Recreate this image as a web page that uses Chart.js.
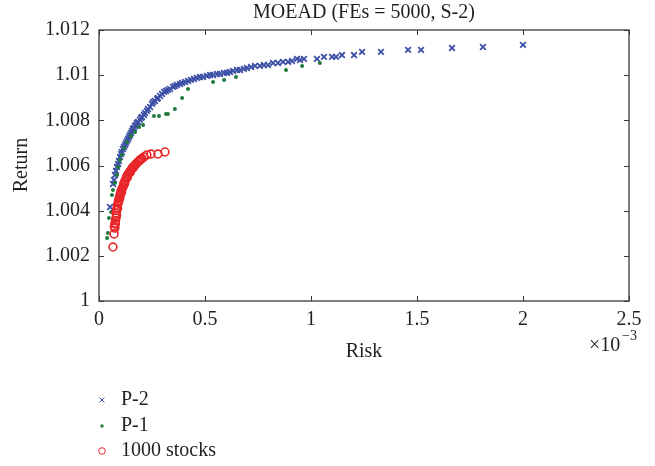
<!DOCTYPE html>
<html>
<head>
<meta charset="utf-8">
<script src="https://cdn.jsdelivr.net/npm/chart.js@4.4.1/dist/chart.umd.min.js"></script>
<style>
  body { margin: 0; background: #fff; }
  canvas { display: block; }
</style>
</head>
<body>
<canvas id="myChart" width="655" height="466"></canvas>
<script>
// risk values are in units of 1e-3 (axis shows x10^-3)
const p2Risk = [0.052,0.066,0.071,0.075,0.080,0.085,0.090,0.094,0.099,0.104,0.108,0.113,0.118,0.123,0.127,0.132,0.137,0.142,0.146,0.151,
  0.156,0.160,0.165,0.170,0.175,0.179,0.184,0.193,0.198,0.203,0.212,0.217,0.226,0.231,0.241,0.250,0.255,0.264,0.274,0.278,
  0.288,0.297,0.307,0.316,0.325,0.335,0.349,0.358,0.368,0.382,0.392,0.406,0.420,0.434,0.448,0.462,0.476,0.491,0.509,0.524,
  0.538,0.557,0.571,0.590,0.604,0.618,0.632,0.651,0.665,0.684,0.698,0.717,0.736,0.759,0.778,0.797,0.821,0.844,0.868,0.892,
  0.910,0.934,0.948,0.967,1.028,1.061,1.099,1.118,1.146,1.203,1.241,1.330,1.458,1.519,1.665,1.811,2.000];
const p2Return = [1.00416,1.00518,1.00536,1.00558,1.00576,1.00593,1.00607,1.00620,1.00638,1.00651,1.00660,1.00673,1.00682,1.00691,1.00700,1.00709,1.00717,1.00726,1.00735,1.00744,
  1.00753,1.00762,1.00766,1.00775,1.00780,1.00788,1.00793,1.00802,1.00811,1.00815,1.00824,1.00833,1.00842,1.00850,1.00859,1.00873,1.00881,1.00886,1.00895,1.00899,
  1.00908,1.00917,1.00926,1.00930,1.00935,1.00939,1.00948,1.00952,1.00957,1.00961,1.00966,1.00970,1.00974,1.00979,1.00983,1.00988,1.00992,1.00992,1.00997,1.01001,
  1.01001,1.01005,1.01005,1.01010,1.01010,1.01014,1.01019,1.01023,1.01023,1.01028,1.01032,1.01036,1.01041,1.01041,1.01045,1.01045,1.01054,1.01054,1.01059,1.01059,
  1.01063,1.01072,1.01067,1.01072,1.01072,1.01081,1.01081,1.01081,1.01089,1.01089,1.01103,1.01103,1.01112,1.01112,1.01120,1.01125,1.01134];

const p1Risk = [0.038,0.042,0.047,0.057,0.061,0.066,0.075,0.085,0.090,0.099,0.108,0.118,0.132,0.151,0.170,
  0.189,0.208,0.259,0.283,0.316,0.325,0.358,0.392,0.420,0.538,0.590,0.646,0.882,0.958,1.042];
const p1Return = [1.00279,1.00301,1.00368,1.00394,1.00469,1.00492,1.00523,1.00558,1.00593,1.00624,1.00647,1.00678,1.00704,1.00731,1.00748,
  1.00771,1.00779,1.00819,1.00819,1.00828,1.00828,1.00850,1.00899,1.00939,1.00970,1.00979,1.00992,1.01023,1.01041,1.01054];

const stockRisk = [0.066,0.071,0.075,0.075,0.078,0.080,0.080,0.083,0.085,0.087,0.090,0.092,0.094,0.097,0.099,0.102,0.104,0.108,0.113,0.116,
  0.118,0.123,0.127,0.130,0.132,0.137,0.142,0.146,0.151,0.156,0.160,0.165,0.170,0.175,0.184,0.189,0.193,0.203,0.212,0.226,
  0.245,0.278,0.311,
  0.072,0.077,0.083,0.088,0.093,0.098,0.106,0.111,0.121,0.134,0.148,0.162,0.178,0.198];
const stockReturn = [1.00239,1.00297,1.00323,1.00345,1.00356,1.00368,1.00390,1.00401,1.00412,1.00423,1.00434,1.00443,1.00452,1.00461,1.00469,1.00478,1.00487,1.00496,1.00505,1.00514,
  1.00523,1.00532,1.00540,1.00547,1.00554,1.00561,1.00567,1.00574,1.00580,1.00587,1.00593,1.00597,1.00602,1.00607,1.00616,1.00620,1.00624,1.00631,1.00638,1.00647,
  1.00651,1.00651,1.00660,
  1.00330,1.00340,1.00380,1.00410,1.00440,1.00455,1.00480,1.00500,1.00520,1.00548,1.00570,1.00590,1.00610,1.00628];

const xTicks = [0, 0.5, 1, 1.5, 2, 2.5];
const yTicks = [1, 1.002, 1.004, 1.006, 1.008, 1.01, 1.012];

const seriesNames = ['P-2', 'P-1', '1000 stocks'];
const chartTitle = 'MOEAD (FEs = 5000, S-2)';

const FONT = "'Liberation Serif', 'Times New Roman', serif";
const TXT = '#231f20';
const BLUE = '#3b4fa6';
const GREEN = '#1f7a3c';
const RED = '#e8262a';

const pts = (xs, ys) => xs.map((x, i) => ({ x: x, y: ys[i] }));

const decor = {
  id: 'decor',
  afterDraw(chart) {
    const ctx = chart.ctx;
    const a = chart.chartArea;
    const xs = chart.scales.x, ys = chart.scales.y;
    ctx.save();
    // box
    ctx.strokeStyle = '#3a3a3a';
    ctx.lineWidth = 1.3;
    ctx.strokeRect(a.left, a.top, a.right - a.left, a.bottom - a.top);
    // inward ticks
    ctx.beginPath();
    xTicks.forEach(v => {
      const px = Math.round(xs.getPixelForValue(v)) + 0.5;
      ctx.moveTo(px, a.bottom); ctx.lineTo(px, a.bottom - 5);
      ctx.moveTo(px, a.top); ctx.lineTo(px, a.top + 5);
    });
    yTicks.forEach(v => {
      const py = Math.round(ys.getPixelForValue(v)) + 0.5;
      ctx.moveTo(a.left, py); ctx.lineTo(a.left + 5, py);
      ctx.moveTo(a.right, py); ctx.lineTo(a.right - 5, py);
    });
    ctx.lineWidth = 1;
    ctx.stroke();

    ctx.fillStyle = TXT;
    ctx.font = '20px ' + FONT;
    ctx.textAlign = 'center';
    ctx.textBaseline = 'middle';
    ctx.fillText(chartTitle, (a.left + a.right) / 2, 13);
    ctx.fillText('Risk', (a.left + a.right) / 2, 352);

    ctx.save();
    ctx.translate(22, 165);
    ctx.rotate(-Math.PI / 2);
    ctx.fillText('Return', 0, 0);
    ctx.restore();

    // exponent label
    ctx.textAlign = 'left';
    ctx.fillText('\u00d710', 589, 346);
    ctx.font = '14px ' + FONT;
    ctx.fillText('\u22123', 622, 336);

    // legend
    ctx.font = '20px ' + FONT;
    const rows = [400, 426, 451];
    chart.data.datasets.forEach((ds, i) => {
      const y = rows[i];
      ctx.save();
      ctx.strokeStyle = ds.borderColor;
      ctx.fillStyle = ds.backgroundColor;
      Chart.helpers.drawPoint(ctx, {
        pointStyle: ds.pointStyle, radius: ds.pointRadius * 0.85, rotation: 0, borderWidth: ds.borderWidth
      }, 102, y);
      ctx.restore();
      ctx.fillStyle = TXT;
      ctx.fillText(ds.label, 121, y);
    });
    ctx.restore();
  }
};

new Chart(document.getElementById('myChart').getContext('2d'), {
  type: 'scatter',
  data: {
    datasets: [
      { label: seriesNames[0], data: pts(p2Risk, p2Return), pointStyle: 'crossRot', pointRadius: 4,
        borderColor: BLUE, backgroundColor: BLUE, borderWidth: 1.8, order: 2 },
      { label: seriesNames[1], data: pts(p1Risk, p1Return), pointStyle: 'circle', pointRadius: 2,
        borderColor: GREEN, backgroundColor: GREEN, borderWidth: 0, order: 1 },
      { label: seriesNames[2], data: pts(stockRisk, stockReturn), pointStyle: 'circle', pointRadius: 3.9,
        borderColor: RED, backgroundColor: 'rgba(0,0,0,0)', borderWidth: 1.6, order: 0 }
    ]
  },
  options: {
    responsive: false,
    animation: false,
    events: [],
    layout: { padding: { left: 0, right: 26, top: 30, bottom: 125 } },
    plugins: { legend: { display: false }, tooltip: { enabled: false }, title: { display: false } },
    scales: {
      x: {
        type: 'linear', min: 0, max: 2.5,
        afterBuildTicks: s => { s.ticks = xTicks.map(v => ({ value: v })); },
        afterFit: s => { s.height = 40; },
        grid: { display: false, drawTicks: false },
        border: { display: false },
        ticks: { color: TXT, font: { family: FONT, size: 20 }, padding: 7, maxRotation: 0,
          callback: v => String(v) }
      },
      y: {
        type: 'linear', min: 1, max: 1.012,
        afterBuildTicks: s => { s.ticks = yTicks.map(v => ({ value: v })); },
        afterFit: s => { s.width = 99; },
        grid: { display: false, drawTicks: false },
        border: { display: false },
        ticks: { color: TXT, font: { family: FONT, size: 20 }, padding: 9,
          callback: v => String(v) }
      }
    }
  },
  plugins: [decor]
});
</script>
</body>
</html>
